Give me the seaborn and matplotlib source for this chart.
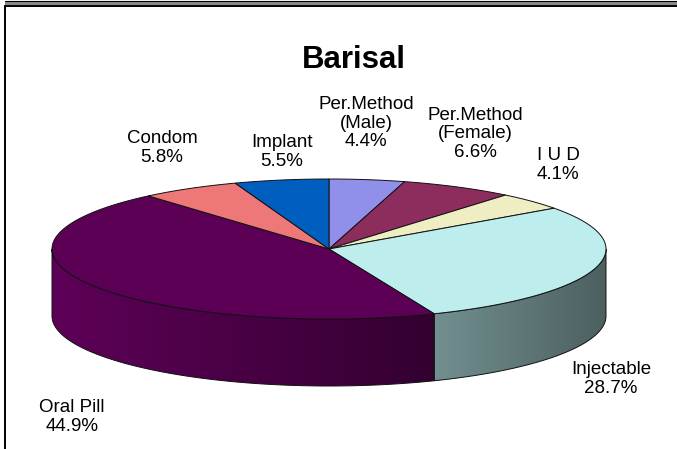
import numpy as np
import matplotlib
matplotlib.use("Agg")
import matplotlib.pyplot as plt
from matplotlib.patches import Polygon
from matplotlib.colors import LinearSegmentedColormap
import seaborn as sns

# Slices, clockwise from 12 o'clock
labels = ["Per.Method\n(Male)", "Per.Method\n(Female)", "I U D", "Injectable",
          "Oral Pill", "Condom", "Implant"]
values = [4.4, 6.6, 4.1, 28.7, 44.9, 5.8, 5.5]
top_colors = ["#9090ea", "#8c2d5e", "#eeeec2", "#bdeded", "#5c0056", "#ee7777", "#005ebf"]
side_colors = {"Injectable": ("#728f8f", "#4c6060"), "Oral Pill": ("#5e0058", "#330030")}

# label anchor (pixel coords), kept apart from the data
label_pos = {"Per.Method\n(Male)": (366, 123), "Per.Method\n(Female)": (475, 134),
             "I U D": (558, 165), "Injectable": (611, 379), "Oral Pill": (72, 417),
             "Condom": (162, 148), "Implant": (282, 152)}

sns.set_theme(style="white")
plt.rcParams['font.family'] = ['Liberation Sans', 'DejaVu Sans']
plt.rcParams['text.color'] = 'black'

fig = plt.figure(figsize=(6.77, 4.49), dpi=100)
ax = fig.add_axes([0, 0, 1, 1])

cx, cy, rx, ry, depth = 329, 249, 277, 70, 67


def arc(a0, a1, dy=0, n=120):
    t = np.radians(np.linspace(a0, a1, n))
    return np.column_stack([cx + rx * np.sin(t), cy - ry * np.cos(t) + dy])


angles = np.concatenate([[0], np.cumsum(values) / sum(values) * 360])

# side walls of the front half, shaded left to right
for i, lab in enumerate(labels):
    a0, a1 = max(angles[i], 90), min(angles[i + 1], 270)
    if a0 >= a1:
        continue
    pts = np.vstack([arc(a0, a1), arc(a0, a1, depth)[::-1]])
    poly = Polygon(pts, closed=True, facecolor="none", edgecolor="#111111", lw=0.7, zorder=3)
    ax.add_patch(poly)
    c_l, c_r = side_colors.get(lab, (top_colors[i], top_colors[i]))
    cmap = LinearSegmentedColormap.from_list(lab, [c_l, c_r])
    grad = np.linspace(0, 1, 256).reshape(1, -1)
    im = ax.imshow(grad, extent=[pts[:, 0].min(), pts[:, 0].max(), pts[:, 1].max(), pts[:, 1].min()],
                   cmap=cmap, aspect="auto", zorder=2, interpolation="bilinear")
    im.set_clip_path(poly)

# top surface
for i, lab in enumerate(labels):
    pts = np.vstack([[cx, cy], arc(angles[i], angles[i + 1])])
    ax.add_patch(Polygon(pts, closed=True, facecolor=top_colors[i], edgecolor="#111111",
                         lw=0.7, zorder=4))

for i, lab in enumerate(labels):
    x, y = label_pos[lab]
    ax.text(x, y, f"{lab}\n{values[i]:.1f}%", ha="center", va="center", fontsize=13.5,
            linespacing=1.12, color="black")

ax.text(354, 60, "Barisal", ha="center", va="center", fontsize=22.5, fontweight="bold",
        color="black")

# frame
ax.plot([5, 677], [1, 1], color="black", lw=0.8)
ax.fill_between([5, 677], 2, 4.5, color="#8a8a8a", lw=0)
ax.plot([5, 677], [6, 6], color="black", lw=1.4)
ax.plot([5, 5], [6, 449], color="black", lw=1.4)

ax.set_xlim(0, 677)
ax.set_ylim(449, 0)
ax.axis("off")
fig.savefig("out.png", dpi=100)
